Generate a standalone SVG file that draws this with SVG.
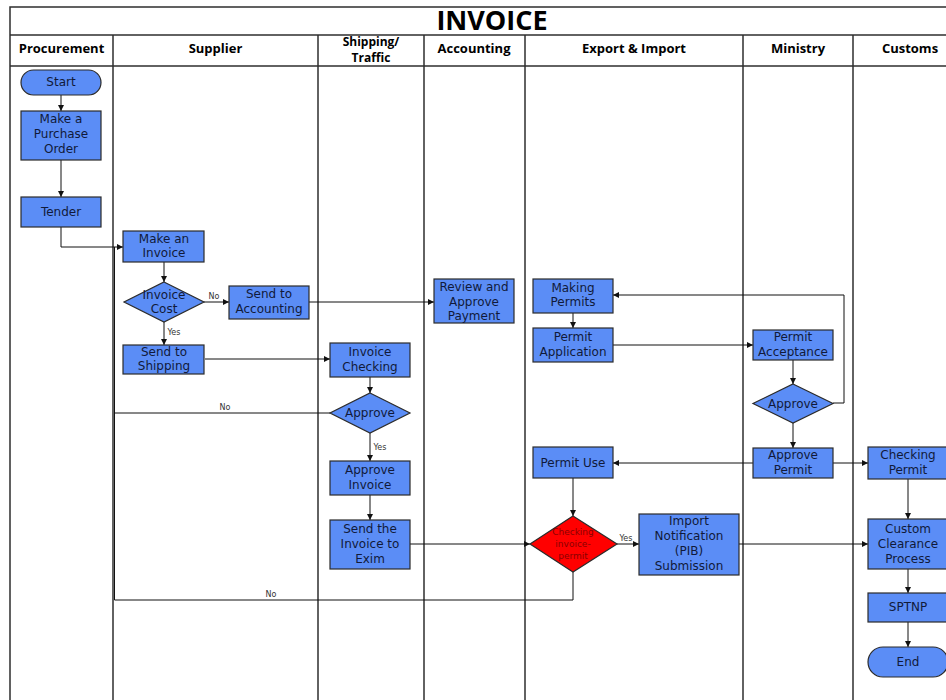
<svg xmlns="http://www.w3.org/2000/svg" width="946" height="700" viewBox="0 0 946 700">
<style>
.lane{stroke:#2e2e2e;stroke-width:1.5;fill:none}
.box{fill:#5b8df6;stroke:#2b2b2b;stroke-width:1.2}
.red{fill:#ff0000;stroke:#2b2b2b;stroke-width:1.2}
.t{font-family:"DejaVu Sans",sans-serif;font-size:12px;fill:#111a3a;text-anchor:middle}
.tr{font-family:"DejaVu Sans",sans-serif;font-size:9px;fill:#8a0000;text-anchor:middle}
.h{font-family:"Open Sans",sans-serif;font-weight:bold;font-size:13px;fill:#000;text-anchor:middle}
.hs{font-family:"Open Sans",sans-serif;font-weight:bold;font-size:12px;fill:#000;text-anchor:middle}
.title{font-family:"Open Sans",sans-serif;font-weight:bold;font-size:27px;fill:#000;text-anchor:middle}
.c{stroke:#111;stroke-width:1;fill:none}
.ca{stroke:#111;stroke-width:1;fill:none;marker-end:url(#a)}
.lbl{font-family:"DejaVu Sans",sans-serif;font-size:8px;fill:#333;text-anchor:middle}
</style>
<defs>
<marker id="a" markerUnits="userSpaceOnUse" markerWidth="6" markerHeight="6" refX="6" refY="3" orient="auto">
<path d="M0,0 L6,3 L0,6 z" fill="#111"/>
</marker>
</defs>
<rect width="946" height="700" fill="#fff"/>
<g id="frame">
<rect class="lane" x="10" y="7" width="970" height="710"/>
<line class="lane" x1="10" y1="35" x2="980" y2="35"/>
<line class="lane" x1="10" y1="66" x2="980" y2="66"/>
<line class="lane" x1="113" y1="35" x2="113" y2="710"/>
<line class="lane" x1="318" y1="35" x2="318" y2="710"/>
<line class="lane" x1="424" y1="35" x2="424" y2="710"/>
<line class="lane" x1="525" y1="35" x2="525" y2="710"/>
<line class="lane" x1="743" y1="35" x2="743" y2="710"/>
<line class="lane" x1="853" y1="35" x2="853" y2="710"/>
<text class="title" x="492" y="30">INVOICE</text>
<text class="h" x="61.5" y="53">Procurement</text>
<text class="h" x="215.5" y="53">Supplier</text>
<text class="hs" x="371" y="46">Shipping/</text>
<text class="hs" x="371" y="62">Traffic</text>
<text class="h" x="474" y="53">Accounting</text>
<text class="h" x="634" y="53">Export &amp; Import</text>
<text class="h" x="798" y="53">Ministry</text>
<text class="h" x="910" y="53">Customs</text>
</g>
<g id="connectors">
<line class="ca" x1="61" y1="95" x2="61" y2="111"/>
<line class="ca" x1="61" y1="160" x2="61" y2="197"/>
<polyline class="ca" points="61,227 61,247 123,247"/>
<line class="ca" x1="164" y1="262" x2="164" y2="282"/>
<line class="ca" x1="204" y1="302" x2="229" y2="302"/>
<text class="lbl" x="214" y="299">No</text>
<line class="ca" x1="164" y1="322" x2="164" y2="345"/>
<text class="lbl" x="174" y="335">Yes</text>
<line class="ca" x1="309" y1="302" x2="434" y2="302"/>
<line class="ca" x1="205" y1="359" x2="330" y2="359"/>
<line class="ca" x1="370" y1="377" x2="370" y2="393"/>
<line class="c" x1="330" y1="413" x2="114.5" y2="413"/>
<text class="lbl" x="225" y="410">No</text>
<line class="ca" x1="370" y1="433" x2="370" y2="461"/>
<text class="lbl" x="380" y="450">Yes</text>
<line class="ca" x1="370" y1="495" x2="370" y2="520"/>
<line class="ca" x1="410" y1="544" x2="530" y2="544"/>
<polyline class="c" points="573,572 573,600 114.5,600 114.5,247"/>
<text class="lbl" x="271" y="597">No</text>
<line class="ca" x1="617" y1="544" x2="639" y2="544"/>
<text class="lbl" x="626" y="541">Yes</text>
<line class="ca" x1="739" y1="544" x2="868" y2="544"/>
<line class="ca" x1="573" y1="313" x2="573" y2="328"/>
<line class="ca" x1="613" y1="345" x2="753" y2="345"/>
<line class="ca" x1="793" y1="360" x2="793" y2="384"/>
<polyline class="ca" points="833,403 844,403 844,295 613,295"/>
<line class="ca" x1="793" y1="423" x2="793" y2="448"/>
<line class="ca" x1="753" y1="463" x2="613" y2="463"/>
<line class="ca" x1="833" y1="463" x2="868" y2="463"/>
<line class="ca" x1="573" y1="478" x2="573" y2="516"/>
<line class="ca" x1="908" y1="479" x2="908" y2="519"/>
<line class="ca" x1="908" y1="569" x2="908" y2="593"/>
<line class="ca" x1="908" y1="622" x2="908" y2="647"/>
</g>
<g id="start"><rect class="box" x="21" y="70" width="80" height="25" rx="12.5"/><text class="t" x="61" y="86">Start</text></g>
<g id="purchase-order"><rect class="box" x="21" y="111" width="80" height="49"/><text class="t" x="61" y="123">Make a</text><text class="t" x="61" y="138">Purchase</text><text class="t" x="61" y="153">Order</text></g>
<g id="tender"><rect class="box" x="21" y="197" width="80" height="30"/><text class="t" x="61" y="216">Tender</text></g>
<g id="make-invoice"><rect class="box" x="123" y="231" width="81" height="31"/><text class="t" x="164" y="243">Make an</text><text class="t" x="164" y="257">Invoice</text></g>
<g id="invoice-cost"><polygon class="box" points="164,282 204,302 164,322 124,302"/><text class="t" x="164" y="299">Invoice</text><text class="t" x="164" y="313">Cost</text></g>
<g id="send-accounting"><rect class="box" x="229" y="286" width="80" height="33"/><text class="t" x="269" y="298">Send to</text><text class="t" x="269" y="313">Accounting</text></g>
<g id="send-shipping"><rect class="box" x="123" y="345" width="81" height="29"/><text class="t" x="164" y="356">Send to</text><text class="t" x="164" y="370">Shipping</text></g>
<g id="invoice-checking"><rect class="box" x="330" y="343" width="80" height="34"/><text class="t" x="370" y="356">Invoice</text><text class="t" x="370" y="371">Checking</text></g>
<g id="approve-shipping"><polygon class="box" points="370,393 410,413 370,433 330,413"/><text class="t" x="370" y="417">Approve</text></g>
<g id="approve-invoice"><rect class="box" x="330" y="461" width="80" height="34"/><text class="t" x="370" y="474">Approve</text><text class="t" x="370" y="489">Invoice</text></g>
<g id="send-exim"><rect class="box" x="330" y="520" width="80" height="49"/><text class="t" x="370" y="533">Send the</text><text class="t" x="370" y="548">Invoice to</text><text class="t" x="370" y="563">Exim</text></g>
<g id="review-payment"><rect class="box" x="434" y="279" width="80" height="44"/><text class="t" x="474" y="291">Review and</text><text class="t" x="474" y="306">Approve</text><text class="t" x="474" y="320">Payment</text></g>
<g id="making-permits"><rect class="box" x="533" y="279" width="80" height="34"/><text class="t" x="573" y="292">Making</text><text class="t" x="573" y="306">Permits</text></g>
<g id="permit-application"><rect class="box" x="533" y="328" width="80" height="34"/><text class="t" x="573" y="341">Permit</text><text class="t" x="573" y="356">Application</text></g>
<g id="permit-use"><rect class="box" x="533" y="447" width="80" height="31"/><text class="t" x="573" y="467">Permit Use</text></g>
<g id="checking-invoice-permit"><polygon class="red" points="573,516 617,544 573,572 530,544"/><text class="tr" x="573" y="535">Checking</text><text class="tr" x="573" y="547">invoice-</text><text class="tr" x="573" y="559">permit</text></g>
<g id="import-notification"><rect class="box" x="639" y="514" width="100" height="61"/><text class="t" x="689" y="525">Import</text><text class="t" x="689" y="540">Notification</text><text class="t" x="689" y="555">(PIB)</text><text class="t" x="689" y="570">Submission</text></g>
<g id="permit-acceptance"><rect class="box" x="753" y="330" width="80" height="30"/><text class="t" x="793" y="341">Permit</text><text class="t" x="793" y="356">Acceptance</text></g>
<g id="approve-ministry"><polygon class="box" points="793,384 833,403.5 793,423 753,403.5"/><text class="t" x="793" y="408">Approve</text></g>
<g id="approve-permit"><rect class="box" x="753" y="448" width="80" height="30"/><text class="t" x="793" y="459">Approve</text><text class="t" x="793" y="474">Permit</text></g>
<g id="checking-permit"><rect class="box" x="868" y="447" width="80" height="32"/><text class="t" x="908" y="459">Checking</text><text class="t" x="908" y="474">Permit</text></g>
<g id="custom-clearance"><rect class="box" x="868" y="519" width="80" height="50"/><text class="t" x="908" y="533">Custom</text><text class="t" x="908" y="548">Clearance</text><text class="t" x="908" y="563">Process</text></g>
<g id="sptnp"><rect class="box" x="868" y="593" width="80" height="29"/><text class="t" x="908" y="611">SPTNP</text></g>
<g id="end"><rect class="box" x="868" y="647" width="80" height="30" rx="15"/><text class="t" x="908" y="666">End</text></g>
</svg>
